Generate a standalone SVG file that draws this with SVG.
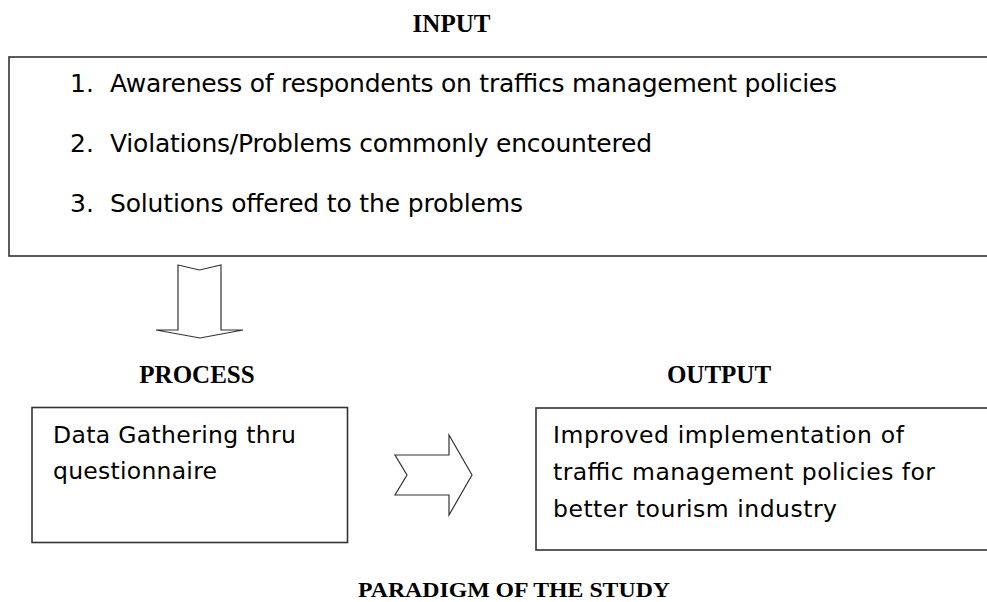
<svg xmlns="http://www.w3.org/2000/svg" width="987" height="602" viewBox="0 0 987 602">
  <style>
    .head { font-family: "Liberation Serif", "Times New Roman", serif; font-weight: bold; fill: #000; }
    .body { font-family: "DejaVu Sans", Verdana, sans-serif; fill: #000; }
    .box { fill: #fff; stroke: #333; stroke-width: 1.6; }
    .arrow { fill: #fff; stroke: #333; stroke-width: 1.2; stroke-linejoin: miter; }
  </style>
  <rect width="987" height="602" fill="#fff"/>

  <!-- INPUT block -->
  <g id="input">
    <text class="head" x="451.5" y="31.5" font-size="25" text-anchor="middle">INPUT</text>
    <rect class="box" x="9" y="57" width="990" height="199"/>
    <g class="body" font-size="25">
      <text x="70" y="91.7">1.</text>
      <text x="110" y="91.7" textLength="727" lengthAdjust="spacing">Awareness of respondents on traffics management policies</text>
      <text x="70" y="151.7">2.</text>
      <text x="110" y="151.7" textLength="542" lengthAdjust="spacing">Violations/Problems commonly encountered</text>
      <text x="70" y="211.7">3.</text>
      <text x="110" y="211.7" textLength="413" lengthAdjust="spacing">Solutions offered to the problems</text>
    </g>
  </g>

  <!-- PROCESS block -->
  <g id="process">
    <text class="head" x="197" y="382.5" font-size="25" text-anchor="middle">PROCESS</text>
    <rect class="box" x="32" y="407.5" width="315.5" height="135"/>
    <g class="body" font-size="23.5">
      <text x="53" y="443.3" textLength="243" lengthAdjust="spacing">Data Gathering thru</text>
      <text x="53" y="478.5" textLength="164" lengthAdjust="spacing">questionnaire</text>
    </g>
  </g>

  <!-- OUTPUT block -->
  <g id="output">
    <text class="head" x="719" y="382.5" font-size="25" text-anchor="middle">OUTPUT</text>
    <rect class="box" x="536" y="408" width="460" height="142"/>
    <g class="body" font-size="23.5">
      <text x="553" y="443.3" textLength="351" lengthAdjust="spacing">Improved implementation of</text>
      <text x="553" y="479.5" textLength="382" lengthAdjust="spacing">traffic management policies for</text>
      <text x="553" y="516.5" textLength="284" lengthAdjust="spacing">better tourism industry</text>
    </g>
  </g>

  <!-- Block arrows -->
  <g id="connectors">
    <polygon class="arrow" points="178,265 199.5,270 221,265 221,330 243,330 200,338 156,330 178,330"/>
    <polygon class="arrow" points="395,455 449,455 449,435 472,475 449,515 449,495 395,495 407,475"/>
  </g>

  <!-- Caption -->
  <text id="caption" class="head" x="358" y="596.5" font-size="21" textLength="312" lengthAdjust="spacingAndGlyphs">PARADIGM OF THE STUDY</text>
</svg>
